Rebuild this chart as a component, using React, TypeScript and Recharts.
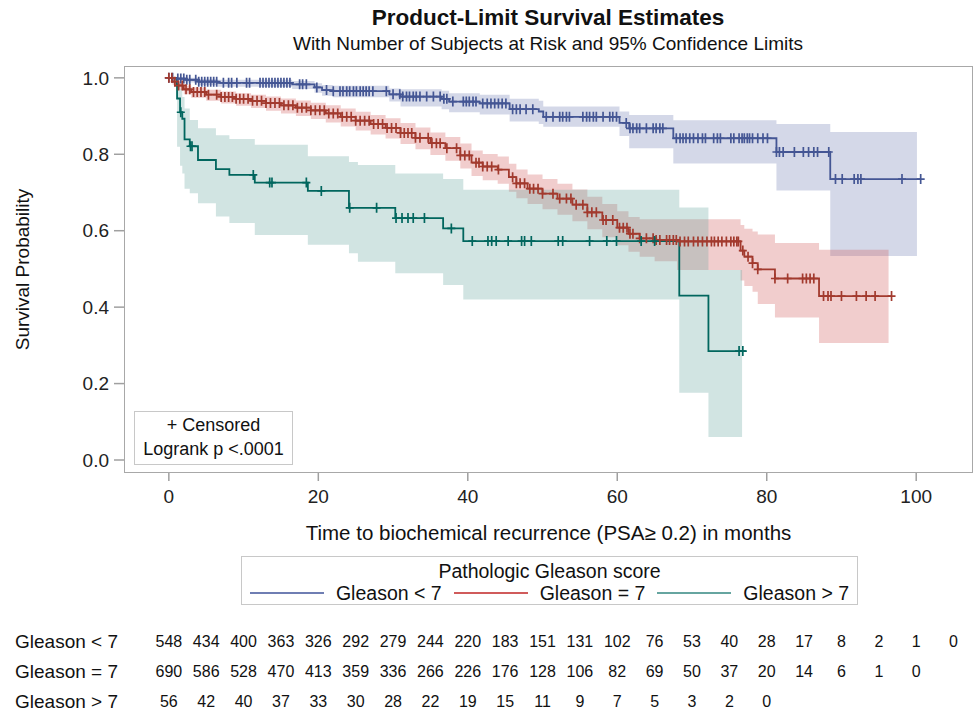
import React from 'react';
import { ComposedChart, Area, Line, Scatter, XAxis, YAxis } from 'recharts';

const FONT = '"Liberation Sans", Arial, Helvetica, sans-serif';

const groupNames = ['Gleason < 7', 'Gleason = 7', 'Gleason > 7'];
const lineColors = ['#445694', '#A23A2E', '#01665E'];
const bandColors = ['#6F7EB3', '#D05B5B', '#66A5A0'];

// Gleason < 7 : step times, survival, 95% limits, censored times
const g1Time = [0, 0.8, 2.2, 4.0, 6.5, 16.5, 19.5, 20.5, 22.0, 29.5, 31.0, 36.5, 37.5, 41.6, 45.6, 49.5, 50.1, 60.3, 61.6, 67.5, 81.3, 88.5];
const g1Surv = [1.0, 0.998, 0.995, 0.99, 0.987, 0.983, 0.975, 0.968, 0.965, 0.957, 0.951, 0.945, 0.938, 0.933, 0.918, 0.912, 0.898, 0.882, 0.868, 0.842, 0.806, 0.735];
const g1Lower = [1.0, 0.994, 0.988, 0.981, 0.977, 0.971, 0.961, 0.953, 0.949, 0.938, 0.925, 0.918, 0.91, 0.904, 0.886, 0.879, 0.872, 0.848, 0.816, 0.776, 0.705, 0.534];
const g1Upper = [1.0, 1.0, 1.0, 0.997, 0.995, 0.992, 0.986, 0.981, 0.979, 0.972, 0.97, 0.966, 0.96, 0.956, 0.945, 0.94, 0.925, 0.912, 0.903, 0.889, 0.879, 0.858];
const g1BandEnd = 100.1;
const g1LineEnd = 100.6;
const g1Censor = [0, 0.5, 1.2, 1.6, 2.0, 2.4, 2.8, 3.6, 4.0, 4.4, 4.8, 5.2, 5.6, 6.0, 6.4, 7.3, 8.0, 8.4, 9.1, 10.4, 10.8, 12.2, 12.6, 13.0, 13.4, 13.8, 14.2, 14.6, 15.0, 15.4, 15.8, 16.2, 17.5, 17.9, 18.4, 19.8, 21.1, 22.0, 22.9, 23.3, 23.8, 24.2, 24.7, 25.1, 25.6, 26.0, 26.4, 26.8, 27.3, 29.1, 30.0, 30.9, 31.3, 31.8, 32.2, 32.7, 33.1, 33.6, 34.5, 35.4, 36.3, 36.8, 37.2, 38.0, 39.4, 39.8, 40.2, 40.7, 41.1, 42.0, 42.6, 43.1, 43.6, 44.1, 44.6, 45.1, 46.0, 46.5, 47.0, 47.8, 48.7, 50.5, 51.4, 52.3, 52.7, 53.2, 53.6, 55.4, 55.9, 56.3, 56.8, 57.2, 58.1, 59.0, 59.4, 59.9, 61.2, 61.7, 62.1, 62.6, 63.0, 63.9, 64.8, 65.2, 65.7, 66.1, 67.9, 68.4, 68.8, 69.2, 69.7, 70.2, 70.8, 71.4, 71.8, 72.9, 73.4, 73.8, 75.2, 75.6, 76.3, 76.7, 77.0, 77.4, 77.7, 78.1, 78.8, 79.5, 80.1, 81.3, 81.7, 82.2, 83.7, 84.9, 85.6, 86.3, 86.8, 88.3, 89.2, 90.1, 91.7, 92.2, 92.6, 98.1, 100.6];

// Gleason = 7
const g2Time = [0, 0.5, 1, 2, 3, 5, 7, 9, 11, 13, 15, 17, 19, 21, 23, 25, 27, 29, 31, 33, 35, 37, 39, 40.5, 42, 44, 45.5, 46.5, 48, 50, 52, 54, 56, 58, 60, 61.5, 63, 65, 68, 76.5, 77, 78.1, 78.8, 81.1, 87];
const g2Surv = [1, 0.99, 0.98, 0.97, 0.963, 0.956, 0.95, 0.945, 0.94, 0.934, 0.928, 0.922, 0.915, 0.907, 0.898, 0.888, 0.879, 0.869, 0.856, 0.843, 0.829, 0.816, 0.797, 0.778, 0.768, 0.76, 0.74, 0.724, 0.71, 0.697, 0.684, 0.668, 0.648, 0.628, 0.608, 0.592, 0.58, 0.576, 0.572, 0.548, 0.532, 0.515, 0.499, 0.475, 0.429];
const g2Lower = [1, 0.982, 0.969, 0.957, 0.948, 0.94, 0.933, 0.927, 0.921, 0.914, 0.907, 0.9, 0.892, 0.883, 0.873, 0.862, 0.852, 0.841, 0.827, 0.813, 0.798, 0.783, 0.763, 0.743, 0.732, 0.723, 0.702, 0.685, 0.67, 0.656, 0.642, 0.625, 0.604, 0.583, 0.562, 0.545, 0.532, 0.52, 0.497, 0.47, 0.455, 0.44, 0.408, 0.373, 0.306];
const g2Upper = [1, 0.995, 0.988, 0.98, 0.975, 0.969, 0.964, 0.96, 0.956, 0.951, 0.946, 0.941, 0.935, 0.928, 0.92, 0.911, 0.903, 0.894, 0.882, 0.87, 0.857, 0.845, 0.828, 0.81, 0.801, 0.794, 0.775, 0.76, 0.747, 0.735, 0.723, 0.708, 0.689, 0.67, 0.651, 0.636, 0.63, 0.63, 0.63, 0.615, 0.605, 0.598, 0.59, 0.568, 0.55];
const g2BandEnd = 96.3;
const g2LineEnd = 96.7;
const g2Censor = [0, 0.4, 0.8, 1.3, 1.8, 2.3, 2.8, 3.3, 3.8, 4.3, 4.8, 5.3, 6.4, 7.0, 7.5, 8.0, 8.5, 9.0, 9.5, 10.0, 10.6, 11.2, 11.8, 12.4, 13.0, 13.6, 14.2, 14.8, 15.4, 16.0, 16.6, 17.2, 17.8, 18.4, 19.0, 19.6, 20.2, 20.8, 21.4, 22.0, 22.6, 23.2, 23.8, 24.4, 25.0, 25.6, 26.2, 26.8, 27.4, 28.0, 28.6, 29.2, 29.8, 30.4, 31.0, 31.5, 32.0, 32.5, 33.0, 33.6, 34.7, 35.2, 35.8, 36.3, 37.2, 38.5, 39.0, 39.6, 40.2, 41.1, 41.5, 42.0, 42.6, 43.2, 44.1, 46.0, 46.5, 47.0, 47.6, 48.3, 48.8, 49.4, 50.0, 51.4, 52.3, 53.2, 53.8, 54.5, 55.4, 56.0, 56.6, 57.2, 58.1, 58.5, 59.4, 60.3, 60.8, 61.3, 61.7, 62.1, 63.0, 63.9, 64.8, 65.2, 65.7, 66.6, 67.0, 67.5, 67.9, 68.4, 69.0, 69.5, 70.2, 70.8, 71.4, 72.0, 72.6, 73.0, 73.5, 74.0, 74.6, 75.2, 75.6, 76.0, 76.2, 76.8, 77.5, 78.1, 78.8, 81.1, 82.8, 84.8, 85.3, 85.8, 86.3, 87.6, 88.2, 88.6, 90.0, 92.0, 93.3, 94.5, 96.7];

// Gleason > 7
const g3Time = [0, 1.1, 1.5, 1.8, 2.1, 2.8, 3.9, 6.3, 8.1, 11.5, 18.6, 24.1, 25.3, 30.3, 36.7, 39.4, 68.3, 72.2];
const g3Surv = [1, 0.946, 0.91, 0.893, 0.839, 0.821, 0.785, 0.761, 0.746, 0.726, 0.704, 0.66, 0.66, 0.633, 0.606, 0.573, 0.43, 0.285];
const g3Lower = [1, 0.82, 0.77, 0.75, 0.71, 0.698, 0.672, 0.637, 0.62, 0.589, 0.563, 0.541, 0.519, 0.489, 0.458, 0.42, 0.176, 0.06];
const g3Upper = [1, 0.99, 0.97, 0.95, 0.92, 0.89, 0.868, 0.85, 0.84, 0.825, 0.795, 0.78, 0.772, 0.75, 0.735, 0.707, 0.661, 0.497];
const g3BandEnd = 76.7;
const g3LineEnd = 77.2;
const g3Censor = [1.6, 2.9, 3.1, 11.3, 13.5, 13.8, 18.4, 20.4, 24.2, 27.8, 30.4, 31.2, 32.0, 32.7, 34.2, 37.8, 40.6, 42.7, 43.2, 43.8, 45.4, 47.2, 47.6, 48.5, 52.1, 52.7, 56.3, 58.6, 59.9, 63.2, 65.0, 76.3, 76.8];

// number at risk table
const riskTimes = [0, 5, 10, 15, 20, 25, 30, 35, 40, 45, 50, 55, 60, 65, 70, 75, 80, 85, 90, 95, 100, 105];
const atRisk1 = [548, 434, 400, 363, 326, 292, 279, 244, 220, 183, 151, 131, 102, 76, 53, 40, 28, 17, 8, 2, 1, 0];
const atRisk2 = [690, 586, 528, 470, 413, 359, 336, 266, 226, 176, 128, 106, 82, 69, 50, 37, 20, 14, 6, 1, 0];
const atRisk3 = [56, 42, 40, 37, 33, 30, 28, 22, 19, 15, 11, 9, 7, 5, 3, 2, 0];

const xTicks = [0, 20, 40, 60, 80, 100];
const yTicks = [0, 0.2, 0.4, 0.6, 0.8, 1.0];
const X_DOMAIN: [number, number] = [-6, 107.6];
const Y_DOMAIN: [number, number] = [-0.034, 1.031];

const groups = [
  { time: g1Time, surv: g1Surv, lower: g1Lower, upper: g1Upper, bandEnd: g1BandEnd, lineEnd: g1LineEnd, censor: g1Censor },
  { time: g2Time, surv: g2Surv, lower: g2Lower, upper: g2Upper, bandEnd: g2BandEnd, lineEnd: g2LineEnd, censor: g2Censor },
  { time: g3Time, surv: g3Surv, lower: g3Lower, upper: g3Upper, bandEnd: g3BandEnd, lineEnd: g3LineEnd, censor: g3Censor },
];

function survAt(time: number[], surv: number[], t: number) {
  let s = surv[0];
  for (let i = 0; i < time.length; i++) if (time[i] <= t) s = surv[i];
  return s;
}

const series = groups.map((g) => {
  const band = g.time.map((t, i) => ({ t, range: [g.lower[i], g.upper[i]] }));
  band.push({ t: g.bandEnd, range: [g.lower[g.lower.length - 1], g.upper[g.upper.length - 1]] });
  const line = g.time.map((t, i) => ({ t, s: g.surv[i] }));
  line.push({ t: g.lineEnd, s: g.surv[g.surv.length - 1] });
  const marks = g.censor.map((t) => ({ t, s: survAt(g.time, g.surv, t) }));
  return { band, line, marks };
});

const riskRows = [atRisk1, atRisk2, atRisk3].map((row, gi) =>
  row.map((n, i) => ({ t: riskTimes[i], row: 2 - gi, n }))
);

const plusShape = (color: string) => (p: any) => {
  const { cx, cy } = p;
  if (cx == null || cy == null) return <g />;
  return (
    <path
      d={`M${cx - 4},${cy}H${cx + 4}M${cx},${cy - 5}V${cy + 5}`}
      stroke={color}
      strokeWidth={1.7}
      fill="none"
    />
  );
};

const countText = (p: any) => (
  <text x={p.cx} y={p.cy} dy="0.35em" textAnchor="middle" fontSize={16} fontFamily={FONT} fill="#111">
    {p.payload.n}
  </text>
);

const RowLabel = (p: any) => (
  <text x={15} y={p.y} dy="0.35em" textAnchor="start" fontSize={19} fontFamily={FONT} fill="#111">
    {groupNames[2 - p.payload.value]}
  </text>
);

export default function App() {
  return (
    <div style={{ position: 'absolute', left: 0, top: 0, width: 975, height: 715, background: '#fff', fontFamily: FONT, color: '#111', overflow: 'hidden' }}>
      <div style={{ position: 'absolute', left: 148, top: 5, width: 800, textAlign: 'center', fontSize: 22.5, fontWeight: 'bold', lineHeight: '26px' }}>
        Product-Limit Survival Estimates
      </div>
      <div style={{ position: 'absolute', left: 148, top: 33, width: 800, textAlign: 'center', fontSize: 19, lineHeight: '22px' }}>
        With Number of Subjects at Risk and 95% Confidence Limits
      </div>

      <div style={{ position: 'absolute', left: 124, top: 66, width: 849, height: 407, border: '1.5px solid #A8A8A8', boxSizing: 'border-box' }} />

      <div style={{ position: 'absolute', left: 0, top: 0 }}>
        <ComposedChart width={975} height={545} margin={{ top: 66, right: 2, bottom: 0, left: 0 }}>
          <XAxis
            type="number"
            dataKey="t"
            domain={X_DOMAIN}
            allowDataOverflow
            ticks={xTicks}
            interval={0}
            height={72}
            tickSize={8}
            tickMargin={9}
            axisLine={false}
            tickLine={{ stroke: '#A0A0A0', strokeWidth: 1.5 }}
            tick={{ fill: '#222', fontSize: 19, fontFamily: FONT }}
            label={{ value: 'Time to biochemical recurrence (PSA≥ 0.2) in months', position: 'insideBottom', offset: 5, fill: '#111', fontSize: 20.5, fontFamily: FONT }}
          />
          <YAxis
            type="number"
            domain={Y_DOMAIN}
            allowDataOverflow
            ticks={yTicks}
            interval={0}
            tickFormatter={(v: number) => v.toFixed(1)}
            width={124}
            tickSize={10}
            tickMargin={5}
            axisLine={false}
            tickLine={{ stroke: '#A0A0A0', strokeWidth: 1.5 }}
            tick={{ fill: '#222', fontSize: 19, fontFamily: FONT }}
            label={{ value: 'Survival Probability', angle: -90, position: 'insideLeft', offset: 22, fill: '#111', fontSize: 19, fontFamily: FONT, style: { textAnchor: 'middle' } }}
          />
          {series.map((s, i) => (
            <Area
              key={`band${i}`}
              data={s.band}
              dataKey="range"
              type="stepAfter"
              fill={bandColors[i]}
              fillOpacity={0.3}
              stroke="none"
              isAnimationActive={false}
            />
          ))}
          {series.map((s, i) => (
            <Line
              key={`line${i}`}
              data={s.line}
              dataKey="s"
              type="stepAfter"
              stroke={lineColors[i]}
              strokeWidth={1.8}
              dot={false}
              activeDot={false}
              isAnimationActive={false}
            />
          ))}
          {series.map((s, i) => (
            <Scatter
              key={`cens${i}`}
              data={s.marks}
              dataKey="s"
              fill={lineColors[i]}
              shape={plusShape(lineColors[i])}
              isAnimationActive={false}
            />
          ))}
        </ComposedChart>
      </div>

      <div style={{ position: 'absolute', left: 134, top: 411, width: 159, height: 54, border: '1px solid #C8C8C8', boxSizing: 'border-box', background: '#fff', textAlign: 'center', fontSize: 18, lineHeight: '24px', paddingTop: 1 }}>
        <div>+ Censored</div>
        <div>Logrank p &lt;.0001</div>
      </div>

      <div style={{ position: 'absolute', left: 241, top: 556, width: 617, height: 49, border: '1px solid #C8C8C8', boxSizing: 'border-box', fontSize: 19.5 }}>
        <div style={{ textAlign: 'center', lineHeight: '22px', paddingTop: 3 }}>Pathologic Gleason score</div>
        <div style={{ display: 'flex', justifyContent: 'center', gap: 12, lineHeight: '22px' }}>
          {groupNames.map((name, i) => (
            <div key={name} style={{ display: 'flex', alignItems: 'center' }}>
              <div style={{ width: 74, height: 2, background: bandColors[i], marginRight: 12 }} />
              <span>{name}</span>
            </div>
          ))}
        </div>
      </div>

      <div style={{ position: 'absolute', left: 0, top: 611 }}>
        <ComposedChart width={975} height={104} margin={{ top: 0, right: 2, bottom: 0, left: 0 }}>
          <XAxis type="number" dataKey="t" domain={X_DOMAIN} allowDataOverflow hide />
          <YAxis
            type="number"
            domain={[-0.443, 3.023]}
            allowDataOverflow
            ticks={[0, 1, 2]}
            interval={0}
            width={124}
            axisLine={false}
            tickLine={false}
            tick={RowLabel}
          />
          {riskRows.map((rows, i) => (
            <Scatter
              key={`risk${i}`}
              data={rows}
              dataKey="row"
              shape={countText}
              isAnimationActive={false}
            />
          ))}
        </ComposedChart>
      </div>
    </div>
  );
}
